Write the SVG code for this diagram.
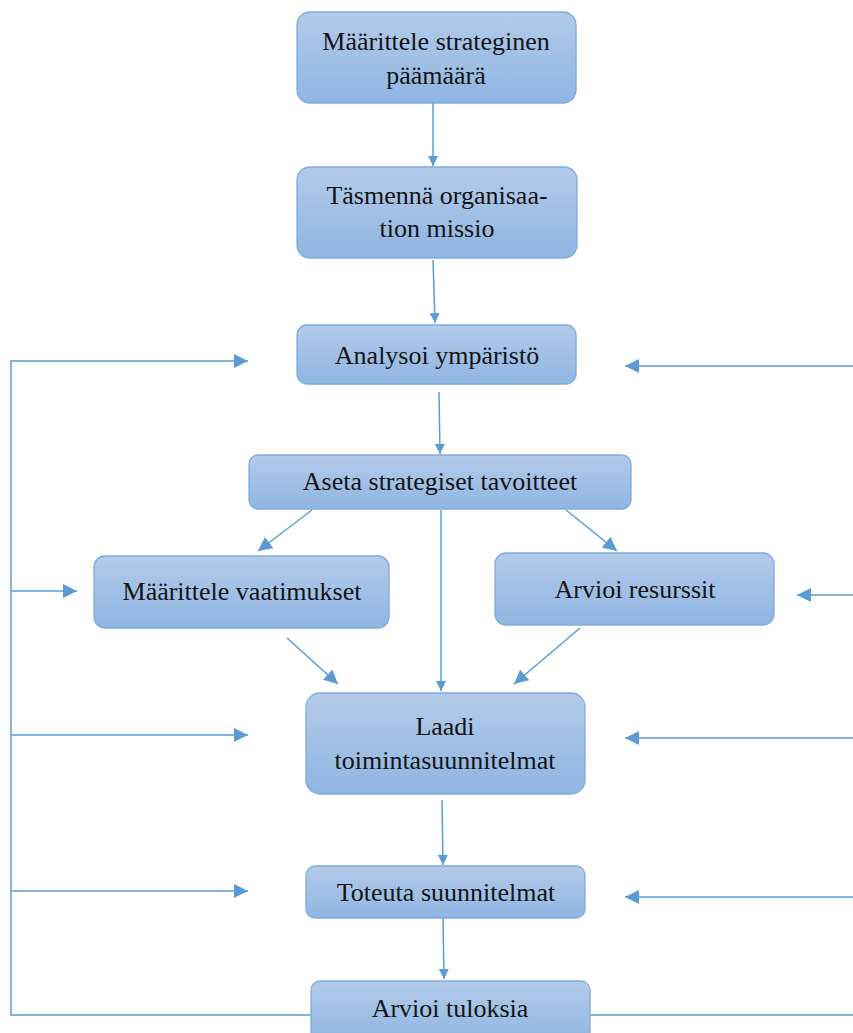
<svg xmlns="http://www.w3.org/2000/svg" width="853" height="1033" viewBox="0 0 853 1033">
<style>
.box{fill:url(#g);stroke:#80abdc;stroke-width:1.3}
.t{font-family:'Liberation Serif','DejaVu Serif',serif;font-size:26px;fill:#141414;text-anchor:middle}
.c{stroke:#5b9bd5;stroke-width:1.5;fill:none}
</style>
<defs>
<linearGradient id="g" x1="0" y1="0" x2="0" y2="1">
<stop offset="0" stop-color="#b3cbea"/>
<stop offset="1" stop-color="#8fb5e2"/>
</linearGradient>
<marker id="a" viewBox="0 0 10 10" refX="10" refY="5" markerWidth="10" markerHeight="10" markerUnits="userSpaceOnUse" orient="auto">
<path d="M0,0 L10,5 L0,10 z" fill="#5b9bd5"/>
</marker>
<marker id="b" viewBox="0 0 10 10" refX="10" refY="5" markerWidth="14" markerHeight="14" markerUnits="userSpaceOnUse" orient="auto">
<path d="M0,0 L10,5 L0,10 z" fill="#5b9bd5"/>
</marker>
</defs>
<g id="connectors">
<line class="c" x1="433" y1="103" x2="433" y2="166" marker-end="url(#a)"/>
<line class="c" x1="433" y1="260" x2="435" y2="323" marker-end="url(#a)"/>
<line class="c" x1="439" y1="392" x2="440" y2="454" marker-end="url(#a)"/>
<line class="c" x1="312" y1="510" x2="258" y2="551" marker-end="url(#b)"/>
<line class="c" x1="441" y1="510" x2="441" y2="691" marker-end="url(#a)"/>
<line class="c" x1="566" y1="510" x2="617" y2="551" marker-end="url(#b)"/>
<line class="c" x1="287" y1="638" x2="338" y2="684" marker-end="url(#b)"/>
<line class="c" x1="580" y1="628" x2="514" y2="684" marker-end="url(#b)"/>
<line class="c" x1="442" y1="800" x2="443" y2="865" marker-end="url(#a)"/>
<line class="c" x1="443" y1="918" x2="444" y2="979" marker-end="url(#a)"/>
<polyline class="c" points="311,1015 11,1015 11,361 248,361" marker-end="url(#b)"/>
<line class="c" x1="11" y1="591" x2="77" y2="591" marker-end="url(#b)"/>
<line class="c" x1="11" y1="735" x2="248" y2="735" marker-end="url(#b)"/>
<line class="c" x1="11" y1="891" x2="248" y2="891" marker-end="url(#b)"/>
<line class="c" x1="590" y1="1015" x2="853" y2="1015"/>
<line class="c" x1="853" y1="366" x2="625" y2="366" marker-end="url(#b)"/>
<line class="c" x1="853" y1="595" x2="797" y2="595" marker-end="url(#b)"/>
<line class="c" x1="853" y1="738" x2="625" y2="738" marker-end="url(#b)"/>
<line class="c" x1="853" y1="897" x2="625" y2="897" marker-end="url(#b)"/>
</g>
<g id="n1"><rect class="box" x="297" y="12" width="279" height="91" rx="13"/>
<text class="t" x="436" y="50">Määrittele strateginen</text><text class="t" x="436" y="84">päämäärä</text></g>
<g id="n2"><rect class="box" x="297" y="167" width="280" height="91" rx="13"/>
<text class="t" x="437" y="204">Täsmennä organisaa-</text><text class="t" x="437" y="237">tion missio</text></g>
<g id="n3"><rect class="box" x="297" y="325" width="279" height="59" rx="10"/>
<text class="t" x="437" y="364">Analysoi ympäristö</text></g>
<g id="n4"><rect class="box" x="249" y="455" width="382" height="54" rx="9"/>
<text class="t" x="440" y="490">Aseta strategiset tavoitteet</text></g>
<g id="n5"><rect class="box" x="94" y="556" width="295" height="72" rx="11"/>
<text class="t" x="242" y="600">Määrittele vaatimukset</text></g>
<g id="n6"><rect class="box" x="495" y="553" width="279" height="72" rx="11"/>
<text class="t" x="635" y="598">Arvioi resurssit</text></g>
<g id="n7"><rect class="box" x="306" y="693" width="279" height="101" rx="14"/>
<text class="t" x="445" y="735">Laadi</text><text class="t" x="445" y="769">toimintasuunnitelmat</text></g>
<g id="n8"><rect class="box" x="306" y="866" width="279" height="52" rx="9"/>
<text class="t" x="446" y="901">Toteuta suunnitelmat</text></g>
<g id="n9"><rect class="box" x="311" y="981" width="279" height="62" rx="9"/>
<text class="t" x="450" y="1017">Arvioi tuloksia</text></g>
</svg>
